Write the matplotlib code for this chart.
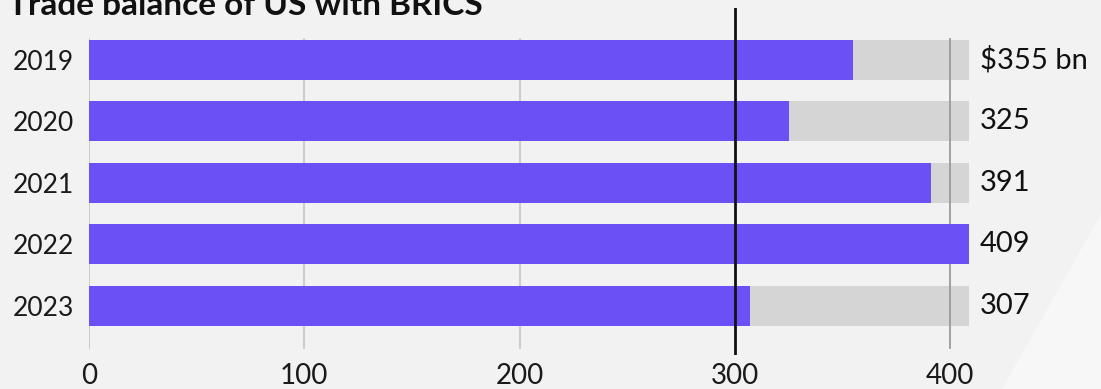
import matplotlib.pyplot as plt
from matplotlib.patches import Polygon

# data
years = ['2019', '2020', '2021', '2022', '2023']
values = [355, 325, 391, 409, 307]
labels = ['$355 bn', '325', '391', '409', '307']
ticks = [0, 100, 200, 300, 400]

purple = '#6a50f5'
grey_bar = '#d5d5d5'
bg = '#f2f2f2'

plt.rcParams['font.family'] = ['Lato', 'DejaVu Sans']

fig = plt.figure(figsize=(11.01, 3.89), dpi=100, facecolor=bg)

# faint light shape in the lower right of the background
fig.patches.append(Polygon([[0.91, 0.0], [1.0, 0.0], [1.0, 0.45]], closed=True,
                           transform=fig.transFigure, facecolor='#f7f7f7',
                           edgecolor='none', zorder=0))

ax = fig.add_axes([89 / 1101, 1 - 355 / 389, (409 * 2.1525) / 1101, 347 / 389])
ax.set_facecolor('none')

pos = list(range(len(years)))
vmax = max(values)

# grey track behind each bar
ax.barh(pos, [vmax] * len(pos), height=0.65, color=grey_bar, zorder=1)
# grid lines
for t in ticks:
    if t == 300:
        continue
    c = '#9a9a9a' if t == 400 else '#c8c8c8'
    ax.axvline(t, ymin=0.02, ymax=0.91, color=c, lw=1.3, zorder=2)
ax.barh(pos, values, height=0.65, color=purple, zorder=3)
ax.axvline(300, color='#111111', lw=2, zorder=4)

for p, lab in zip(pos, labels):
    ax.text(vmax + 5, p, lab, va='center', ha='left', fontsize=21,
            color='#111111', clip_on=False)

ax.set_xlim(0, vmax)
ax.set_ylim(4.797, -0.845)
ax.set_yticks(pos)
ax.set_yticklabels(years, fontsize=19)
ax.set_xticks(ticks)
ax.set_xticklabels([str(t) for t in ticks], fontsize=20)
ax.tick_params(axis='both', length=0, labelcolor='#1a1a1a')
ax.tick_params(axis='y', pad=11)
ax.tick_params(axis='x', pad=6)
for s in ax.spines.values():
    s.set_visible(False)

fig.text(8 / 1101, 1 - 15 / 389, 'Trade balance of US with BRICS',
         fontsize=24, fontweight='bold', color='#111111', va='baseline', ha='left')

fig.savefig('out.png', dpi=100, facecolor=bg)
